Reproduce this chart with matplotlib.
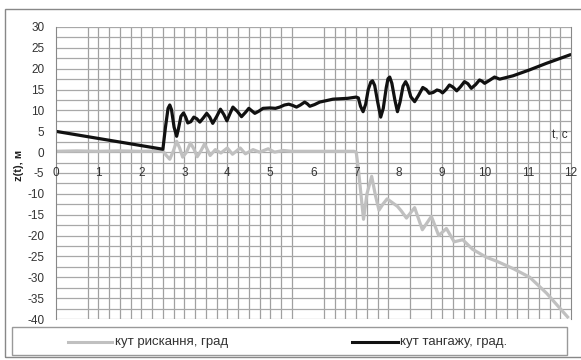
import matplotlib
matplotlib.use("Agg")
import matplotlib.pyplot as plt
from matplotlib.ticker import MultipleLocator, FixedLocator
from matplotlib.patches import Rectangle
from matplotlib.lines import Line2D

plt.rcParams['font.family'] = ['Liberation Sans', 'DejaVu Sans']

# pitch angle (black)
pitch_t = [0, 2.5, 2.56, 2.62, 2.66, 2.7, 2.76, 2.82, 2.86, 2.92, 2.98, 3.03, 3.08, 3.15, 3.22, 3.29, 3.36,
           3.44, 3.52, 3.59, 3.66, 3.75, 3.84, 3.92, 3.99,
           4.06, 4.13, 4.23, 4.33, 4.42, 4.5, 4.57, 4.64, 4.73, 4.83, 4.99, 5.12, 5.22, 5.33, 5.43, 5.52,
           5.61, 5.7, 5.8, 5.86, 5.92, 6.03, 6.15, 6.46, 6.8, 7.0, 7.05,
           7.1, 7.16, 7.22, 7.28, 7.34, 7.38, 7.43, 7.5, 7.57, 7.63, 7.7, 7.74, 7.78, 7.83, 7.9,
           7.96, 8.02, 8.09, 8.15, 8.2, 8.27, 8.36, 8.45, 8.55, 8.63, 8.7, 8.79, 8.88, 8.95, 9.01,
           9.09, 9.17, 9.25, 9.34, 9.43, 9.52, 9.6, 9.68, 9.78, 9.87, 9.93, 9.99, 10.1, 10.22,
           10.34, 10.65, 11.03, 11.43, 11.97]
pitch_v = [5.0, 0.7, 6.0, 10.5, 11.3, 10.2, 6.0, 3.8, 5.5, 8.6, 9.4, 8.4, 7.0, 7.3, 8.4, 8.0, 7.2,
           8.2, 9.3, 8.4, 6.9, 8.5, 10.3, 9.0, 7.5,
           9.2, 10.8, 9.8, 8.5, 9.5, 10.5, 9.9, 9.3, 9.8, 10.5, 10.6, 10.5, 10.8, 11.3, 11.5, 11.2,
           10.8, 11.3, 12.0, 11.6, 11.0, 11.4, 12.0, 12.7, 12.9, 13.2, 13.0,
           11.0, 9.7, 11.5, 15.0, 16.8, 17.1, 16.0, 12.0, 8.4, 10.5, 15.5, 17.6, 18.0, 16.5, 12.5,
           9.7, 12.0, 15.8, 16.9, 15.9, 13.3, 12.1, 13.6, 15.5, 15.0, 14.1, 14.3, 14.9, 14.7, 14.2,
           15.0, 16.1, 15.6, 14.7, 15.7, 16.9, 16.4, 15.3, 16.2, 17.3, 17.0, 16.5, 17.2, 18.0,
           17.5, 18.3, 19.7, 21.3, 23.3]

# yaw angle (gray)
yaw_t = [0, 0.5, 1.0, 1.5, 2.0, 2.5, 2.58, 2.66, 2.74, 2.82, 2.89, 2.96, 3.05, 3.14, 3.22, 3.3,
         3.39, 3.47, 3.54, 3.6, 3.72, 3.85,
         4.0, 4.12, 4.3, 4.42, 4.6, 4.75, 4.95, 5.1, 5.3, 5.5, 6.0, 6.5, 6.95, 7.0, 7.05,
         7.17, 7.25, 7.36, 7.45, 7.53, 7.62, 7.72, 7.96, 8.05, 8.17, 8.36, 8.54, 8.75, 8.92, 9.1, 9.28,
         9.48, 9.71, 10.03, 10.26, 10.65, 11.04, 11.43, 11.92]
yaw_v = [0.2, 0.3, 0.2, 0.3, 0.2, 0.3, -0.8, -1.7, 0.2, 2.6, 1.0, -1.2, 0.0, 2.2, 0.8, -1.1,
         0.4, 2.0, 0.5, -0.8, 0.6, -0.2,
         1.0, -0.5, 1.0, -0.4, 0.6, 0.0, 0.8, 0.0, 0.4, 0.2, 0.2, 0.2, 0.2, 0.0, -4.0,
         -16.1, -10.0, -5.8, -10.5, -13.9, -12.5, -11.2, -13.0, -14.1, -15.8, -13.3, -18.6, -15.4, -20.0, -18.3,
         -21.5, -21.0, -23.3, -25.2, -26.1, -27.9, -30.0, -33.8, -39.5]

x_ticks = list(range(0, 13))
y_ticks = list(range(-40, 31, 5))

yaw_label = "кут рискання, град"
pitch_label = "кут тангажу, град."
y_label = "z(t), м"
x_label = "t, c"

W, H = 581, 360
fig = plt.figure(figsize=(W / 100, H / 100), dpi=100)

# outer frame
fig.add_artist(Rectangle((5 / W, 1 - 357 / H), 600 / W, 348 / H, transform=fig.transFigure,
                         fill=False, edgecolor='#888888', lw=1.0))
# legend frame
fig.add_artist(Rectangle((12 / W, 1 - 355 / H), 555 / W, 28 / H, transform=fig.transFigure,
                         fill=False, edgecolor='#999999', lw=1.0))

ax = fig.add_axes([55.5 / W, 1 - 319 / H, (571 - 55.5) / W, (319 - 27) / H])
ax.set_xlim(0, 12)
ax.set_ylim(-40, 30)

grid_x = [0.75, 1, 1.25, 1.5, 1.75, 2, 2.25, 2.5, 2.75, 3, 3.25, 3.5, 3.75, 4, 4.25, 4.5, 4.75,
          5, 5.25, 5.5, 6.25, 6.5, 6.75, 7, 7.25, 7.5, 7.75, 8.25, 8.75, 9, 9.25, 9.5, 9.75, 10,
          10.25, 10.5, 10.75, 11, 11.25, 11.5, 11.75]
ax.xaxis.set_major_locator(FixedLocator(grid_x))
ax.yaxis.set_major_locator(MultipleLocator(5))
ax.yaxis.set_minor_locator(MultipleLocator(2.5))
ax.grid(which='major', axis='x', color='#a0a0a0', lw=0.9)
ax.grid(which='both', axis='y', color='#a8a8a8', lw=0.9)
ax.set_axisbelow(True)
ax.tick_params(which='both', length=0)
ax.set_xticklabels([])
ax.set_yticks(y_ticks)
ax.set_yticklabels([str(v) for v in y_ticks], fontsize=8.5, color='#333333')
ax.tick_params(axis='y', pad=8)
for s in ['top', 'bottom']:
    ax.spines[s].set_visible(False)
ax.spines['left'].set_color('#888888')
ax.spines['right'].set_color('#888888')

for t in x_ticks:
    ax.text(t, -5, str(t), ha='center', va='center', fontsize=8.5, color='#333333')

ax.plot(yaw_t, yaw_v, color='#c0c0c0', lw=2.3, solid_joinstyle='round')
ax.plot(pitch_t, pitch_v, color='#111111', lw=2.3, solid_joinstyle='round')

ax.text(11.75, 4, x_label, ha='center', va='center', fontsize=8.5, color='#333333')
fig.text(19 / W, 1 - 165 / H, y_label, rotation=90, ha='center', va='center',
         fontsize=8, fontweight='bold', color='#222222')

# legend
ly = 1 - 342 / H
fig.add_artist(Line2D([68 / W, 112 / W], [ly, ly], transform=fig.transFigure, color='#c0c0c0', lw=2.2))
fig.text(115 / W, ly, yaw_label, ha='left', va='center', fontsize=9.5, color='#333333')
fig.add_artist(Line2D([352 / W, 398 / W], [ly, ly], transform=fig.transFigure, color='#111111', lw=2.2))
fig.text(400 / W, ly, pitch_label, ha='left', va='center', fontsize=9.5, color='#333333')

fig.savefig('out.png', dpi=100)
